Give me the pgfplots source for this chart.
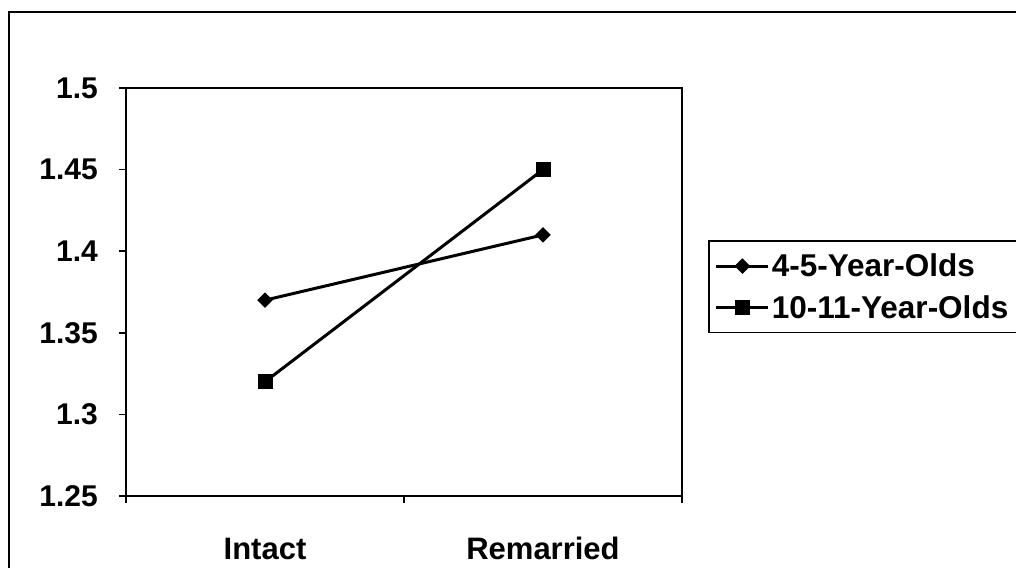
\documentclass[border=0pt]{standalone}
\usepackage{fontspec}
\setmainfont{Liberation Sans}
\usepackage{pgfplots}
\pgfplotsset{compat=1.18}
\begin{document}
\begin{tikzpicture}
\useasboundingbox (-126pt,-71pt) rectangle (890pt,496pt);
\clip (-126pt,-71pt) rectangle (890pt,496pt);
\draw[line width=2pt] (-117pt,-100pt) -- (-117pt,484pt) -- (950pt,484pt);
\begin{axis}[
  at={(0pt,0pt)}, anchor=south west,
  scale only axis, width=556pt, height=408pt,
  xmin=-0.5, xmax=1.5, ymin=1.25, ymax=1.5,
  xtick={-0.5,0.5,1.5}, xticklabels={},
  extra x ticks={0,1}, extra x tick labels={Intact,Remarried},
  extra x tick style={tick style={draw=none}},
  ytick={1.25,1.3,1.35,1.4,1.45,1.5},
  yticklabels={1.25,1.3,1.35,1.4,1.45,1.5},
  xtick pos=bottom, ytick pos=left,
  tick align=outside, major tick length=7pt,
  axis line style={line width=2pt},
  tick style={line width=1.5pt, black},
  ticklabel style={font=\fontsize{30}{36}\selectfont\bfseries, inner sep=0pt},
  yticklabel style={xshift=-21pt},
  xticklabel style={anchor=base, yshift=-56pt, font=\fontsize{31}{36}\selectfont\bfseries},
  legend style={at={(1.047,0.627)}, anchor=north west, draw=black, line width=1.5pt,
    font=\fontsize{31.5}{36}\selectfont\bfseries, inner xsep=6pt, inner ysep=11pt,
    legend cell align=left, row sep=13pt},
  legend image code/.code={\draw[mark repeat=2,mark phase=2,#1] plot coordinates {(14pt,0pt)(40pt,0pt)(66pt,0pt)};},
]
\addplot[black, line width=3pt, mark=square*, mark size=5pt, mark options={rotate=45, line width=1pt}] coordinates {(0,1.37) (1,1.41)};
\addlegendentry{4-5-Year-Olds}
\addplot[black, line width=3pt, mark=square*, mark size=7pt, mark options={line width=1pt}] coordinates {(0,1.32) (1,1.45)};
\addlegendentry{10-11-Year-Olds}
\end{axis}
\end{tikzpicture}
\end{document}
